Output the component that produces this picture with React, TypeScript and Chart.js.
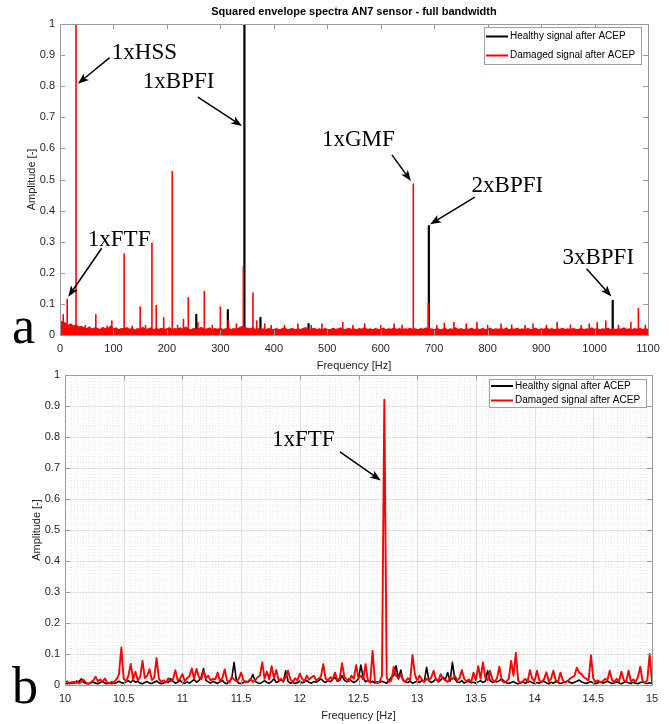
import React, { useEffect, useRef } from "react";
import { Chart, registerables } from "chart.js";

Chart.register(...registerables);

// ---------------- DATA ----------------
const chartTitle = "Squared envelope spectra AN7 sensor - full bandwidth";
const seriesNames = ["Healthy signal after ACEP", "Damaged signal after ACEP"];
const xLabel = "Frequency [Hz]";
const yLabel = "Amplitude [-]";

const xTicksA = [0, 100, 200, 300, 400, 500, 600, 700, 800, 900, 1000, 1100];
const yTicks = [0, 0.1, 0.2, 0.3, 0.4, 0.5, 0.6, 0.7, 0.8, 0.9, 1];
const xTicksB = [10, 10.5, 11, 11.5, 12, 12.5, 13, 13.5, 14, 14.5, 15];

// panel a: damaged noise floor, one value every 5 Hz from 0 to 1100 Hz
const floorStepA = 5;
const damagedFloorA = [
  0.045, 0.040, 0.038, 0.030, 0.035, 0.028, 0.032, 0.025, 0.027, 0.022, 0.020, 0.025, 0.018, 0.022, 0.020, 0.017, 0.024, 0.019, 0.021, 0.028,
  0.018, 0.022, 0.016, 0.020, 0.019, 0.023, 0.017, 0.021, 0.015, 0.020, 0.018, 0.024, 0.017, 0.019, 0.022, 0.016, 0.020, 0.018, 0.021, 0.017,
  0.019, 0.023, 0.016, 0.020, 0.018, 0.022, 0.017, 0.025, 0.019, 0.016, 0.021, 0.018, 0.020, 0.024, 0.017, 0.019, 0.022, 0.016, 0.020, 0.018,
  0.021, 0.017, 0.019, 0.023, 0.016, 0.020, 0.018, 0.022, 0.026, 0.024, 0.021, 0.019, 0.022, 0.018, 0.020, 0.017, 0.019, 0.016, 0.020, 0.018,
  0.017, 0.020, 0.016, 0.019, 0.022, 0.017, 0.018, 0.021, 0.016, 0.019, 0.017, 0.020, 0.023, 0.016, 0.018, 0.021, 0.017, 0.019, 0.016, 0.020,
  0.018, 0.016, 0.020, 0.017, 0.019, 0.022, 0.016, 0.018, 0.021, 0.017, 0.019, 0.016, 0.020, 0.018, 0.023, 0.017, 0.019, 0.016, 0.020, 0.018,
  0.017, 0.021, 0.016, 0.019, 0.018, 0.022, 0.017, 0.020, 0.016, 0.019, 0.018, 0.021, 0.017, 0.019, 0.016, 0.020, 0.018, 0.022, 0.017, 0.019,
  0.016, 0.020, 0.018, 0.017, 0.021, 0.016, 0.019, 0.018, 0.022, 0.017, 0.020, 0.016, 0.019, 0.018, 0.021, 0.017, 0.019, 0.016, 0.020, 0.018,
  0.017, 0.021, 0.016, 0.019, 0.018, 0.020, 0.017, 0.022, 0.016, 0.019, 0.018, 0.021, 0.017, 0.019, 0.016, 0.020, 0.018, 0.017, 0.021, 0.016,
  0.019, 0.018, 0.022, 0.017, 0.020, 0.016, 0.019, 0.018, 0.021, 0.017, 0.019, 0.016, 0.020, 0.018, 0.017, 0.021, 0.016, 0.019, 0.018, 0.022,
  0.017, 0.020, 0.016, 0.019, 0.018, 0.021, 0.017, 0.019, 0.016, 0.020, 0.018, 0.022, 0.017, 0.019, 0.016, 0.020, 0.018, 0.021, 0.017, 0.019,
  0.018,
];

// panel a: spectral lines (Hz, amplitude)
const damagedPeakFreqA = [
  6, 13.5, 30, 47, 67, 88, 97, 120, 135, 150,
  160, 172, 180, 194, 210, 220, 231, 240, 258, 270,
  285, 300, 315, 330, 343, 361, 368, 383, 395, 420,
  445, 470, 490, 529, 548, 570, 600, 625, 640, 661,
  689, 705, 719, 737, 760, 780, 800, 825, 845, 870,
  885, 910, 930, 955, 975, 990, 1005, 1021, 1045, 1068,
  1082, 1095,
];
const damagedPeakAmpA = [
  0.065, 0.115, 1.0, 0.03, 0.065, 0.028, 0.045, 0.26, 0.028, 0.09,
  0.03, 0.295, 0.095, 0.055, 0.525, 0.03, 0.05, 0.12, 0.04, 0.14,
  0.03, 0.09, 0.045, 0.035, 0.22, 0.135, 0.045, 0.035, 0.03, 0.03,
  0.035, 0.03, 0.035, 0.04, 0.03, 0.035, 0.03, 0.035, 0.03, 0.485,
  0.1, 0.03, 0.038, 0.04, 0.035, 0.04, 0.03, 0.035, 0.032, 0.03,
  0.035, 0.03, 0.04, 0.032, 0.03, 0.035, 0.04, 0.045, 0.03, 0.04,
  0.085, 0.03,
];
const healthyPeakFreqA = [255, 314, 345, 375, 465, 512, 690, 1034];
const healthyPeakAmpA = [0.065, 0.08, 1.0, 0.055, 0.035, 0.02, 0.35, 0.11];

// panel b: zoom 10-15 Hz, one value every 0.02 Hz
const freqStartB = 10;
const freqStepB = 0.02;
const damagedB = [
  0.008, 0.012, 0.004, 0.010, 0.006, 0.013, 0.005, 0.011, 0.016, 0.007, 0.004, 0.009, 0.014, 0.027, 0.012, 0.018, 0.010, 0.021, 0.008, 0.006, 0.004, 0.011, 0.019, 0.035, 0.121,
  0.020, 0.012, 0.030, 0.068, 0.018, 0.043, 0.015, 0.025, 0.078, 0.022, 0.030, 0.051, 0.016, 0.024, 0.087, 0.020, 0.010, 0.015, 0.008, 0.022, 0.012, 0.018, 0.048, 0.014, 0.020,
  0.035, 0.012, 0.022, 0.028, 0.053, 0.020, 0.052, 0.025, 0.018, 0.045, 0.022, 0.030, 0.015, 0.020, 0.018, 0.040, 0.012, 0.022, 0.050, 0.015, 0.008, 0.025, 0.018, 0.012, 0.020,
  0.040, 0.015, 0.008, 0.012, 0.020, 0.010, 0.015, 0.025, 0.030, 0.073, 0.020, 0.043, 0.018, 0.061, 0.022, 0.048, 0.015, 0.020, 0.012, 0.025, 0.046, 0.018, 0.010, 0.022, 0.015,
  0.037, 0.020, 0.012, 0.030, 0.018, 0.025, 0.030, 0.015, 0.020, 0.028, 0.067, 0.020, 0.015, 0.025, 0.018, 0.040, 0.015, 0.022, 0.070, 0.025, 0.018, 0.012, 0.030, 0.020, 0.064,
  0.022, 0.030, 0.018, 0.067, 0.015, 0.008, 0.110, 0.012, 0.006, 0.010, 0.030, 0.920, 0.025, 0.010, 0.015, 0.058, 0.030, 0.020, 0.035, 0.015, 0.010, 0.022, 0.015, 0.097, 0.035,
  0.012, 0.030, 0.018, 0.010, 0.020, 0.015, 0.025, 0.046, 0.018, 0.012, 0.035, 0.020, 0.015, 0.010, 0.025, 0.018, 0.030, 0.015, 0.022, 0.048, 0.020, 0.012, 0.018, 0.010, 0.040,
  0.015, 0.061, 0.020, 0.073, 0.025, 0.015, 0.046, 0.018, 0.010, 0.022, 0.059, 0.015, 0.008, 0.012, 0.020, 0.078, 0.030, 0.104, 0.015, 0.006, 0.012, 0.020, 0.010, 0.048, 0.020,
  0.012, 0.046, 0.015, 0.010, 0.018, 0.041, 0.012, 0.020, 0.046, 0.015, 0.010, 0.040, 0.015, 0.008, 0.012, 0.020, 0.025, 0.030, 0.056, 0.040, 0.035, 0.025, 0.020, 0.015, 0.096,
  0.020, 0.010, 0.015, 0.008, 0.012, 0.020, 0.015, 0.046, 0.015, 0.010, 0.020, 0.012, 0.043, 0.015, 0.010, 0.046, 0.012, 0.018, 0.010, 0.025, 0.059, 0.012, 0.008, 0.015, 0.100, 0.010,
];
const healthyB = [
  0.006, 0.004, 0.008, 0.005, 0.010, 0.007, 0.012, 0.020, 0.008, 0.005, 0.004, 0.007, 0.009, 0.006, 0.004, 0.008, 0.011, 0.006, 0.004, 0.007, 0.010, 0.005, 0.008, 0.012, 0.007,
  0.006, 0.010, 0.014, 0.008, 0.016, 0.009, 0.012, 0.006, 0.004, 0.008, 0.011, 0.006, 0.005, 0.009, 0.013, 0.007, 0.004, 0.006, 0.010, 0.008, 0.020, 0.012, 0.006, 0.009, 0.015,
  0.008, 0.005, 0.010, 0.006, 0.012, 0.018, 0.009, 0.014, 0.025, 0.053, 0.015, 0.010, 0.006, 0.012, 0.008, 0.005, 0.010, 0.015, 0.007, 0.004, 0.012, 0.020, 0.073, 0.015, 0.006,
  0.005, 0.008, 0.012, 0.010, 0.016, 0.034, 0.012, 0.007, 0.005, 0.009, 0.014, 0.008, 0.006, 0.011, 0.020, 0.008, 0.012, 0.018, 0.010, 0.046, 0.012, 0.006, 0.009, 0.005, 0.008,
  0.012, 0.007, 0.010, 0.015, 0.008, 0.006, 0.011, 0.009, 0.014, 0.020, 0.012, 0.008, 0.015, 0.010, 0.018, 0.025, 0.012, 0.016, 0.030, 0.015, 0.010, 0.020, 0.013, 0.008, 0.012,
  0.020, 0.064, 0.025, 0.010, 0.015, 0.008, 0.012, 0.006, 0.010, 0.008, 0.012, 0.009, 0.006, 0.014, 0.025, 0.030, 0.062, 0.020, 0.048, 0.015, 0.010, 0.008, 0.012, 0.006, 0.009,
  0.012, 0.008, 0.015, 0.010, 0.057, 0.014, 0.008, 0.012, 0.020, 0.010, 0.016, 0.025, 0.018, 0.040, 0.012, 0.073, 0.020, 0.010, 0.008, 0.014, 0.006, 0.010, 0.012, 0.007, 0.009,
  0.006, 0.010, 0.014, 0.008, 0.012, 0.046, 0.015, 0.008, 0.012, 0.010, 0.014, 0.020, 0.012, 0.007, 0.005, 0.008, 0.011, 0.006, 0.004, 0.008, 0.010, 0.006, 0.009, 0.012, 0.007,
  0.005, 0.008, 0.006, 0.010, 0.012, 0.007, 0.004, 0.009, 0.006, 0.011, 0.008, 0.005, 0.007, 0.010, 0.013, 0.008, 0.006, 0.009, 0.012, 0.016, 0.010, 0.007, 0.005, 0.008, 0.011,
  0.006, 0.004, 0.007, 0.010, 0.006, 0.009, 0.012, 0.008, 0.005, 0.007, 0.010, 0.006, 0.004, 0.008, 0.011, 0.007, 0.005, 0.009, 0.006, 0.004, 0.008, 0.010, 0.006, 0.005, 0.007, 0.005,
];

// annotation texts with anchor points in data coordinates
const annotationsA = [
  { text: "1xHSS", tx: 97, ty: 0.907, fx: 93, fy: 0.892, ex: 33.5, ey: 0.808 },
  { text: "1xFTF", tx: 52, ty: 0.305, fx: 78, fy: 0.279, ex: 15.5, ey: 0.123 },
  { text: "1xBPFI", tx: 155, ty: 0.814, fx: 258, fy: 0.765, ex: 340.5, ey: 0.672 },
  { text: "1xGMF", tx: 490, ty: 0.627, fx: 621, fy: 0.579, ex: 656.5, ey: 0.495 },
  { text: "2xBPFI", tx: 770, ty: 0.479, fx: 776, fy: 0.443, ex: 692.5, ey: 0.356 },
  { text: "3xBPFI", tx: 940, ty: 0.248, fx: 985, fy: 0.213, ex: 1031.5, ey: 0.124 },
];
const annotationsB = [
  { text: "1xFTF", tx: 11.763, ty: 0.79, fx: 12.342, fy: 0.752, ex: 12.69, ey: 0.66 },
];

// ---------------- STYLE ----------------
const RED = "#ff0000";
const BLACK = "#000000";
const FRAME = "#9a9a9a";
const TICKTXT = "#262626";
const SANS = '"Liberation Sans", Arial, sans-serif';
const SERIF = '"Liberation Serif", "Times New Roman", serif';

type Ann = { text: string; tx: number; ty: number; fx: number; fy: number; ex: number; ey: number };

function spikes(freqs: number[], amps: number[]) {
  const pts: { x: number; y: number | null }[] = [];
  freqs.forEach((f, i) => {
    pts.push({ x: f, y: 0 }, { x: f, y: amps[i] }, { x: f, y: 0 }, { x: f, y: null });
  });
  return pts;
}

function drawArrow(ctx: CanvasRenderingContext2D, x0: number, y0: number, x1: number, y1: number) {
  const ang = Math.atan2(y1 - y0, x1 - x0);
  const c = Math.cos(ang), s = Math.sin(ang);
  const L = 11, W = 4.2;
  const bx = x1 - L * c, by = y1 - L * s;
  ctx.save();
  ctx.strokeStyle = "#000";
  ctx.fillStyle = "#000";
  ctx.lineWidth = 1.5;
  ctx.beginPath();
  ctx.moveTo(x0, y0);
  ctx.lineTo(x1 - 7 * c, y1 - 7 * s);
  ctx.stroke();
  const nx = -s, ny = c;
  ctx.beginPath();
  ctx.moveTo(x1, y1);
  ctx.lineTo(bx + nx * W, by + ny * W);
  ctx.lineTo(x1 - 0.75 * L * c, y1 - 0.75 * L * s);
  ctx.lineTo(bx - nx * W, by - ny * W);
  ctx.closePath();
  ctx.fill();
  ctx.restore();
}

type FrameCfg = {
  xTicks: number[];
  yTicks: number[];
  grid: boolean;
  minorX?: number;
  minorY?: number;
  title?: string;
  yTitleX: number;
  legend: { x: number; y: number; w: number; h: number; row0: number; gap: number };
  panel: { text: string; x: number; y: number };
  anns: Ann[];
};

function makeFramePlugin(cfg: FrameCfg) {
  return {
    id: "matlabFrame",
    beforeDatasetsDraw(chart: any) {
      if (!cfg.grid) return;
      const { ctx, chartArea: a } = chart;
      const xs = chart.scales.x, ys = chart.scales.y;
      ctx.save();
      ctx.lineWidth = 1;
      ctx.strokeStyle = "rgba(0,0,0,0.08)";
      ctx.setLineDash([1, 2]);
      const nX = cfg.minorX || 1, nY = cfg.minorY || 1;
      for (let k = 1; k < nX; k++) {
        const v = xs.min + (k * (xs.max - xs.min)) / nX;
        const px = Math.round(xs.getPixelForValue(v)) + 0.5;
        ctx.beginPath(); ctx.moveTo(px, a.top); ctx.lineTo(px, a.bottom); ctx.stroke();
      }
      for (let k = 1; k < nY; k++) {
        const v = ys.min + (k * (ys.max - ys.min)) / nY;
        const py = Math.round(ys.getPixelForValue(v)) + 0.5;
        ctx.beginPath(); ctx.moveTo(a.left, py); ctx.lineTo(a.right, py); ctx.stroke();
      }
      ctx.setLineDash([]);
      ctx.strokeStyle = "rgba(0,0,0,0.085)";
      cfg.xTicks.forEach((v) => {
        const px = Math.round(xs.getPixelForValue(v)) + 0.5;
        ctx.beginPath(); ctx.moveTo(px, a.top); ctx.lineTo(px, a.bottom); ctx.stroke();
      });
      cfg.yTicks.forEach((v) => {
        const py = Math.round(ys.getPixelForValue(v)) + 0.5;
        ctx.beginPath(); ctx.moveTo(a.left, py); ctx.lineTo(a.right, py); ctx.stroke();
      });
      ctx.restore();
    },
    afterDraw(chart: any) {
      const { ctx, chartArea: a } = chart;
      const xs = chart.scales.x, ys = chart.scales.y;
      ctx.save();
      // frame
      ctx.strokeStyle = FRAME;
      ctx.lineWidth = 1;
      ctx.strokeRect(Math.round(a.left) + 0.5, Math.round(a.top) + 0.5, Math.round(a.right - a.left), Math.round(a.bottom - a.top));
      // ticks
      const TL = 5;
      ctx.beginPath();
      cfg.xTicks.forEach((v) => {
        const px = Math.round(xs.getPixelForValue(v)) + 0.5;
        ctx.moveTo(px, a.bottom); ctx.lineTo(px, a.bottom - TL);
        ctx.moveTo(px, a.top); ctx.lineTo(px, a.top + TL);
      });
      cfg.yTicks.forEach((v) => {
        const py = Math.round(ys.getPixelForValue(v)) + 0.5;
        ctx.moveTo(a.left, py); ctx.lineTo(a.left + TL, py);
        ctx.moveTo(a.right, py); ctx.lineTo(a.right - TL, py);
      });
      ctx.stroke();
      // tick labels
      ctx.fillStyle = TICKTXT;
      ctx.font = "11px " + SANS;
      ctx.textAlign = "center";
      ctx.textBaseline = "middle";
      cfg.xTicks.forEach((v) => {
        ctx.fillText(String(v), xs.getPixelForValue(v), a.bottom + 14);
      });
      ctx.textAlign = "right";
      cfg.yTicks.forEach((v) => {
        ctx.fillText(String(v), a.left - 5, ys.getPixelForValue(v));
      });
      // axis titles
      ctx.textAlign = "center";
      ctx.fillText(xLabel, (a.left + a.right) / 2, a.bottom + 31);
      ctx.save();
      ctx.translate(cfg.yTitleX, (a.top + a.bottom) / 2);
      ctx.rotate(-Math.PI / 2);
      ctx.fillText(yLabel, 0, 0);
      ctx.restore();
      // title
      if (cfg.title) {
        ctx.fillStyle = "#000";
        ctx.font = "bold 11px " + SANS;
        ctx.fillText(cfg.title, (a.left + a.right) / 2, 12);
      }
      // legend
      const L = cfg.legend;
      ctx.fillStyle = "#fff";
      ctx.fillRect(L.x, L.y, L.w, L.h);
      ctx.strokeStyle = "#a0a0a0";
      ctx.lineWidth = 1;
      ctx.strokeRect(L.x + 0.5, L.y + 0.5, L.w, L.h);
      const rows = [
        { name: seriesNames[0], color: BLACK },
        { name: seriesNames[1], color: RED },
      ];
      ctx.font = "10px " + SANS;
      ctx.textAlign = "left";
      rows.forEach((r, i) => {
        const cy = L.y + L.row0 + i * L.gap;
        ctx.strokeStyle = r.color;
        ctx.lineWidth = 2;
        ctx.beginPath(); ctx.moveTo(L.x + 2, cy); ctx.lineTo(L.x + 24, cy); ctx.stroke();
        ctx.fillStyle = "#000";
        ctx.fillText(r.name, L.x + 26, cy);
      });
      // annotations
      ctx.font = "23px " + SERIF;
      ctx.fillStyle = "#000";
      ctx.textAlign = "left";
      ctx.textBaseline = "middle";
      cfg.anns.forEach((an) => {
        ctx.fillText(an.text, xs.getPixelForValue(an.tx), ys.getPixelForValue(an.ty));
        drawArrow(ctx, xs.getPixelForValue(an.fx), ys.getPixelForValue(an.fy), xs.getPixelForValue(an.ex), ys.getPixelForValue(an.ey));
      });
      // panel letter
      ctx.font = "52px " + SERIF;
      ctx.textBaseline = "alphabetic";
      ctx.fillText(cfg.panel.text, cfg.panel.x, cfg.panel.y);
      ctx.restore();
    },
  };
}

const W = 669, H = 724;

export default function App() {
  const refA = useRef<HTMLCanvasElement>(null);
  const refB = useRef<HTMLCanvasElement>(null);

  useEffect(() => {
    const floorPts = damagedFloorA.map((v, i) => ({ x: i * floorStepA, y: v }));
    const chartA = new Chart(refA.current as HTMLCanvasElement, {
      type: "line",
      data: {
        datasets: [
          { label: seriesNames[1], data: spikes(damagedPeakFreqA, damagedPeakAmpA), borderColor: RED, borderWidth: 1.6, pointRadius: 0, spanGaps: false, order: 0, borderJoinStyle: "round" } as any,
          { label: seriesNames[1] + " floor", data: floorPts, borderColor: RED, backgroundColor: RED, fill: "origin", borderWidth: 1.5, pointRadius: 0, order: 1, tension: 0 } as any,
          { label: seriesNames[0], data: spikes(healthyPeakFreqA, healthyPeakAmpA), borderColor: BLACK, borderWidth: 2.2, pointRadius: 0, spanGaps: false, order: 2, borderJoinStyle: "round" } as any,
        ],
      },
      options: {
        responsive: false,
        animation: false,
        devicePixelRatio: 1,
        events: [],
        layout: { padding: { left: 60, right: W - 648, top: 24, bottom: H - 335 } },
        scales: {
          x: { type: "linear", min: 0, max: 1100, display: false },
          y: { type: "linear", min: 0, max: 1, display: false },
        },
        plugins: { legend: { display: false }, tooltip: { enabled: false }, title: { display: false } },
      },
      plugins: [
        makeFramePlugin({
          xTicks: xTicksA,
          yTicks,
          grid: false,
          title: chartTitle,
          yTitleX: 32,
          legend: { x: 484, y: 27, w: 157, h: 37, row0: 9.5, gap: 19 },
          panel: { text: "a", x: 12, y: 343 },
          anns: annotationsA,
        }),
      ],
    });

    const xsB = damagedB.map((_, i) => Math.round((freqStartB + i * freqStepB) * 1000) / 1000);
    const chartB = new Chart(refB.current as HTMLCanvasElement, {
      type: "line",
      data: {
        datasets: [
          { label: seriesNames[1], data: damagedB.map((v, i) => ({ x: xsB[i], y: v })), borderColor: RED, borderWidth: 1.9, pointRadius: 0, order: 0, borderJoinStyle: "round" } as any,
          { label: seriesNames[0], data: healthyB.map((v, i) => ({ x: xsB[i], y: v })), borderColor: BLACK, borderWidth: 1.6, pointRadius: 0, order: 1, borderJoinStyle: "round" } as any,
        ],
      },
      options: {
        responsive: false,
        animation: false,
        devicePixelRatio: 1,
        events: [],
        layout: { padding: { left: 65, right: W - 652, top: 375, bottom: H - 685 } },
        scales: {
          x: { type: "linear", min: 10, max: 15, display: false },
          y: { type: "linear", min: 0, max: 1, display: false },
        },
        plugins: { legend: { display: false }, tooltip: { enabled: false }, title: { display: false } },
      },
      plugins: [
        makeFramePlugin({
          xTicks: xTicksB,
          yTicks,
          grid: true,
          minorX: 100,
          minorY: 50,
          yTitleX: 37,
          legend: { x: 489, y: 379, w: 157, h: 28, row0: 7, gap: 14.5 },
          panel: { text: "b", x: 12, y: 703 },
          anns: annotationsB,
        }),
      ],
    });

    return () => {
      chartA.destroy();
      chartB.destroy();
    };
  }, []);

  return (
    <div style={{ position: "fixed", left: 0, top: 0, width: W, height: H, background: "#fff" }}>
      <canvas ref={refA} width={W} height={H} style={{ position: "absolute", left: 0, top: 0 }} />
      <canvas ref={refB} width={W} height={H} style={{ position: "absolute", left: 0, top: 0 }} />
    </div>
  );
}
